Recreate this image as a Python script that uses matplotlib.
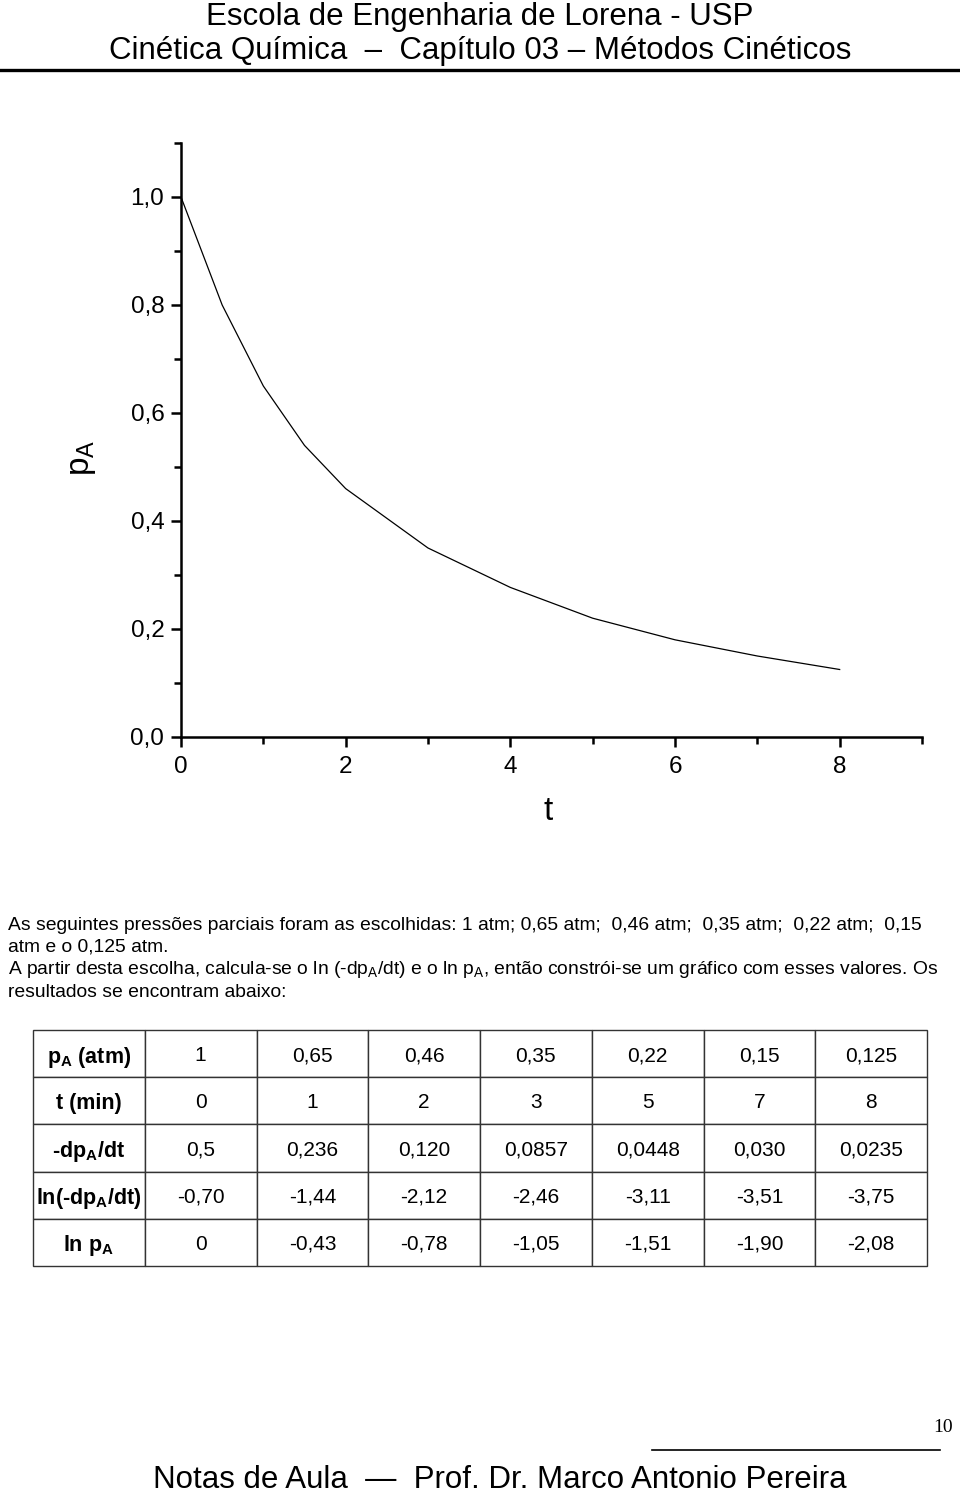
"""
Page from kinetics notes: p_A vs t curve, text paragraph and data table.
"""

import matplotlib

matplotlib.use("Agg")
import matplotlib.pyplot as plt
from matplotlib.lines import Line2D
from matplotlib.ticker import FuncFormatter, MultipleLocator

plt.rcParams["font.family"] = ["Liberation Sans", "DejaVu Sans"]
plt.rcParams["mathtext.fontset"] = "custom"
plt.rcParams["mathtext.rm"] = "Liberation Sans"
plt.rcParams["mathtext.it"] = "Liberation Sans:italic"
plt.rcParams["mathtext.bf"] = "Liberation Sans:bold"

# curve
t_curve = [0, 0.5, 1, 1.5, 2, 3, 4, 5, 6, 7, 8]
pA_curve = [1.0, 0.80, 0.65, 0.54, 0.46, 0.35, 0.277, 0.22, 0.18, 0.15, 0.125]

# table values
row_labels = [
    r"$\mathbf{p_A}$ (atm)",
    "t (min)",
    r"-d$\mathbf{p_A}$/dt",
    r"ln(-d$\mathbf{p_A}$/dt)",
    r"ln $\mathbf{p_A}$",
]
pA_vals = ["1", "0,65", "0,46", "0,35", "0,22", "0,15", "0,125"]
t_vals = ["0", "1", "2", "3", "5", "7", "8"]
dpdt_vals = ["0,5", "0,236", "0,120", "0,0857", "0,0448", "0,030", "0,0235"]
ln_dpdt_vals = ["-0,70", "-1,44", "-2,12", "-2,46", "-3,11", "-3,51", "-3,75"]
ln_pA_vals = ["0", "-0,43", "-0,78", "-1,05", "-1,51", "-1,90", "-2,08"]

W, H = 960, 1497
fig = plt.figure(figsize=(W / 100, H / 100), dpi=100)


def fx(px):
    return px / W


def fy(py):
    return 1 - py / H


# header
fig.text(0.5, fy(17), "Escola de Engenharia de Lorena - USP",
         ha="center", va="center", fontsize=22.5)
fig.text(0.5, fy(51), "Cinética Química  –  Capítulo 03 – Métodos Cinéticos",
         ha="center", va="center", fontsize=22.5)
fig.add_artist(Line2D([0, fx(958)], [fy(70), fy(70)], color="black", lw=2.4))

# plot
ax = fig.add_axes([fx(181), fy(737), fx(922 - 181), (737 - 143) / H])
ax.plot(t_curve, pA_curve, color="black", lw=0.9)
ax.set_xlim(0, 9)
ax.set_ylim(0, 1.1)
ax.spines["top"].set_visible(False)
ax.spines["right"].set_visible(False)
for s in ("left", "bottom"):
    ax.spines[s].set_linewidth(1.8)
ax.xaxis.set_major_locator(MultipleLocator(2))
ax.xaxis.set_minor_locator(MultipleLocator(1))
ax.yaxis.set_major_locator(MultipleLocator(0.2))
ax.yaxis.set_minor_locator(MultipleLocator(0.1))
ax.yaxis.set_major_formatter(FuncFormatter(lambda v, _: f"{v:.1f}".replace(".", ",")))
ax.tick_params(which="major", direction="out", length=7, width=1.8, labelsize=17.5)
ax.tick_params(which="minor", direction="out", length=5, width=1.8)
ax.tick_params(axis="x", pad=7)
ax.tick_params(axis="y", pad=5)
ax.set_xlabel("t", fontsize=24)
ax.xaxis.set_label_coords(0.495, -0.10)
ax.set_ylabel(r"p$_\mathrm{A}$", fontsize=24)
ax.yaxis.set_label_coords(-0.112, 0.47)

# paragraph
para = [
    "As seguintes pressões parciais foram as escolhidas: 1 atm; 0,65 atm;  0,46 atm;  "
    "0,35 atm;  0,22 atm;  0,15",
    "atm e o 0,125 atm.",
    r"A partir desta escolha, calcula-se o ln (-d$\mathrm{p_A}$/dt) e o ln $\mathrm{p_A}$, "
    "então constrói-se um gráfico com esses valores. Os",
    "resultados se encontram abaixo:",
]
for i, line in enumerate(para):
    fig.text(fx(8), fy(925 + 22.5 * i), line, ha="left", va="center", fontsize=13.9)

# table
tax = fig.add_axes([fx(33), fy(1266), fx(927 - 33), (1266 - 1030) / H])
tax.axis("off")
rows = [pA_vals, t_vals, dpdt_vals, ln_dpdt_vals, ln_pA_vals]
cell_text = [[lab] + vals for lab, vals in zip(row_labels, rows)]
tbl = tax.table(cellText=cell_text, cellLoc="center", bbox=[0, 0, 1, 1])
tbl.auto_set_font_size(False)
for (r, c), cell in tbl.get_celld().items():
    cell.set_linewidth(1.0)
    cell.set_edgecolor("#333333")
    txt = cell.get_text()
    txt.set_fontsize(15)
    txt.set_va("center_baseline")
    if c == 0:
        txt.set_fontweight("bold")
        txt.set_fontsize(15.5)

# footer
fig.text(fx(943), fy(1428), "10", ha="center", va="center",
         fontsize=14, family="Liberation Serif")
fig.add_artist(Line2D([fx(652), fx(940)], [fy(1450), fy(1450)], color="black", lw=1.2))
fig.text(fx(500), fy(1480), "Notas de Aula  —  Prof. Dr. Marco Antonio Pereira",
         ha="center", va="center", fontsize=22.5)

fig.savefig("out.png", dpi=100)
plt.close(fig)
